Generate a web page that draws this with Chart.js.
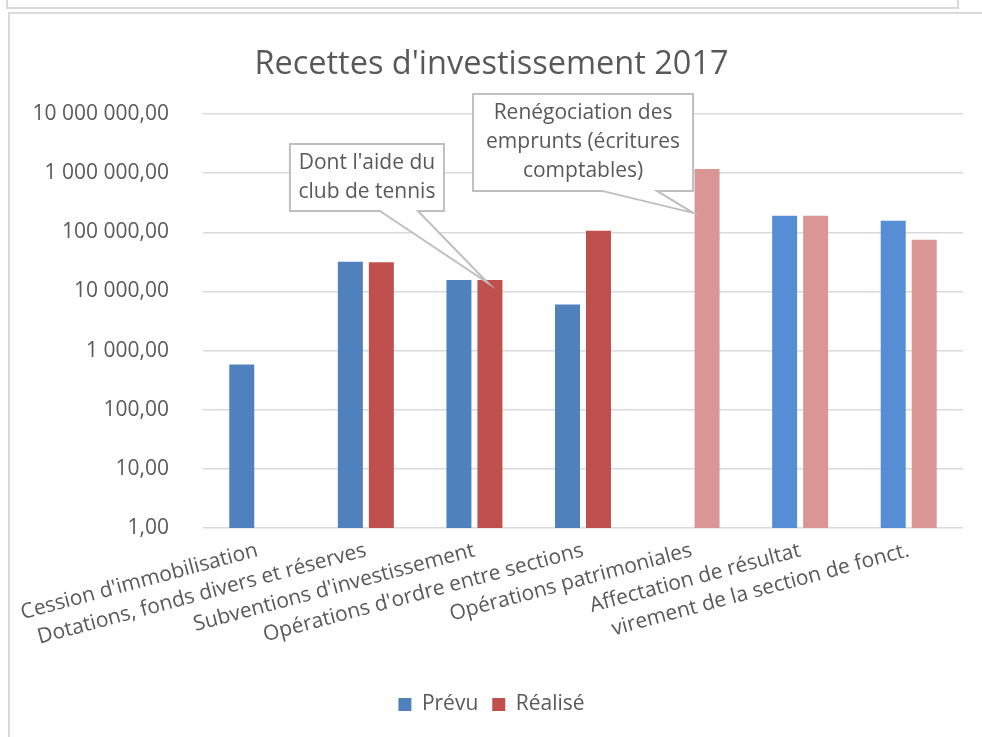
<!DOCTYPE html>
<html>
<head>
<meta charset="utf-8">
<title>Recettes d'investissement 2017</title>
<script src="https://cdn.jsdelivr.net/npm/chart.js@4"></script>
<style>
  body { margin: 0; background: #fff; width: 982px; height: 737px; overflow: hidden; position: relative; }
  .strip { position: absolute; left: 6px; top: -10px; width: 949px; height: 15px; border: 2px solid #d9d9d9; }
  .frame { position: absolute; left: 8px; top: 12px; width: 1000px; height: 800px; border: 2px solid #d9d9d9; }
  #wrap { position: absolute; left: 0; top: 0; width: 982px; height: 737px; }
</style>
</head>
<body>
<div class="strip"></div>
<div class="frame"></div>
<div id="wrap"><canvas id="chart"></canvas></div>
<script>
// Categories and values
const categories = [
  "Cession d'immobilisation",
  'Dotations, fonds divers et réserves',
  "Subventions d'investissement",
  "Opérations d'ordre entre sections",
  'Opérations patrimoniales',
  'Affectation de résultat',
  'virement de la section de fonct.'
];
const prevu = [580, 31700, 15600, 6000, null, 190000, 156000];
const realise = [null, 31000, 15600, 106000, 1180000, 190000, 75000];
const yTicks = [1, 10, 100, 1000, 10000, 100000, 1000000, 10000000];

// Bar colours (some bars are shaded differently in the original)
const prevuColors = ['#4f81bd', '#4f81bd', '#4f81bd', '#4f81bd', '#4f81bd', '#558ed5', '#558ed5'];
const realiseColors = ['#c0504d', '#c0504d', '#c0504d', '#c0504d', '#d99694', '#d99694', '#d99694'];

const textColor = '#595959';
const fontFamily = "'Open Sans', sans-serif";

// Format like 10 000 000,00
function formatNumber(v) {
  return Math.round(v).toString().replace(/\B(?=(\d{3})+(?!\d))/g, ' ') + ',00';
}

// Callout boxes pointing at a bar
const callouts = [
  { dataset: 1, index: 2, lines: ["Dont l'aide du", 'club de tennis'],
    tipDx: -2, tipDy: 3, box: { dx: -198, dy: -139, w: 154, h: 67 }, base: [90, 128] },
  { dataset: 1, index: 4, lines: ['Renégociation des', 'emprunts (écritures', 'comptables)'],
    tipDx: -14, tipDy: 44, box: { dx: -220, dy: -119, w: 220, h: 97 }, base: [129, 184] }
];

const calloutPlugin = {
  id: 'callouts',
  afterDraw(chart) {
    const ctx = chart.ctx;
    callouts.forEach(c => {
      const el = chart.getDatasetMeta(c.dataset).data[c.index];
      const tx = el.x + c.tipDx;
      const ty = el.y + c.tipDy;
      const left = tx + c.box.dx;
      const top = ty + c.box.dy;
      const right = left + c.box.w;
      const bottom = top + c.box.h;
      ctx.save();
      ctx.beginPath();
      ctx.moveTo(left, top);
      ctx.lineTo(right, top);
      ctx.lineTo(right, bottom);
      ctx.lineTo(left + c.base[1], bottom);
      ctx.lineTo(tx, ty);
      ctx.lineTo(left + c.base[0], bottom);
      ctx.lineTo(left, bottom);
      ctx.closePath();
      ctx.fillStyle = '#fff';
      ctx.fill();
      ctx.strokeStyle = '#bfbfbf';
      ctx.lineWidth = 2;
      ctx.stroke();
      ctx.fillStyle = textColor;
      ctx.font = '21px ' + fontFamily;
      ctx.textAlign = 'center';
      ctx.textBaseline = 'middle';
      const lh = 29;
      const cy = (top + bottom) / 2 - (c.lines.length - 1) * lh / 2;
      c.lines.forEach((line, i) => {
        ctx.fillText(line, (left + right) / 2, cy + i * lh);
      });
      ctx.restore();
    });
  }
};

const ctx = document.getElementById('chart').getContext('2d');
new Chart(ctx, {
  type: 'bar',
  data: {
    labels: categories,
    datasets: [{
      label: 'Prévu',
      data: prevu,
      backgroundColor: c => c.dataIndex === undefined ? prevuColors[0] : prevuColors[c.dataIndex]
    }, {
      label: 'Réalisé',
      data: realise,
      backgroundColor: c => c.dataIndex === undefined ? realiseColors[0] : realiseColors[c.dataIndex]
    }]
  },
  options: {
    responsive: true,
    maintainAspectRatio: false,
    animation: false,
    datasets: {
      bar: { categoryPercentage: 0.571, barPercentage: 0.806 }
    },
    layout: { padding: { left: 20, right: 19, top: 0, bottom: 12 } },
    scales: {
      x: {
        grid: { display: false },
        border: { display: false },
        ticks: {
          autoSkip: false,
          minRotation: 15,
          maxRotation: 15,
          padding: 2,
          color: textColor,
          font: { family: fontFamily, size: 21 }
        },
        afterFit: s => { s.height = 152; }
      },
      y: {
        type: 'logarithmic',
        min: 1,
        max: 10000000,
        afterBuildTicks: s => { s.ticks = yTicks.map(v => ({ value: v })); },
        border: { display: false },
        grid: { color: '#d9d9d9', lineWidth: 1.5, drawTicks: false },
        ticks: {
          padding: 34,
          color: textColor,
          font: { family: fontFamily, size: 21 },
          callback: v => formatNumber(v)
        },
        afterFit: s => { s.width = 183; }
      }
    },
    plugins: {
      title: {
        display: true,
        text: "Recettes d'investissement 2017",
        color: textColor,
        font: { family: fontFamily, size: 32.5, weight: 'normal' },
        padding: { top: 45, bottom: 30 }
      },
      legend: {
        position: 'bottom',
        labels: {
          boxWidth: 13,
          boxHeight: 13,
          padding: 14,
          color: textColor,
          font: { family: fontFamily, size: 21 }
        }
      },
      tooltip: { enabled: false }
    }
  },
  plugins: [calloutPlugin]
});
</script>
</body>
</html>
